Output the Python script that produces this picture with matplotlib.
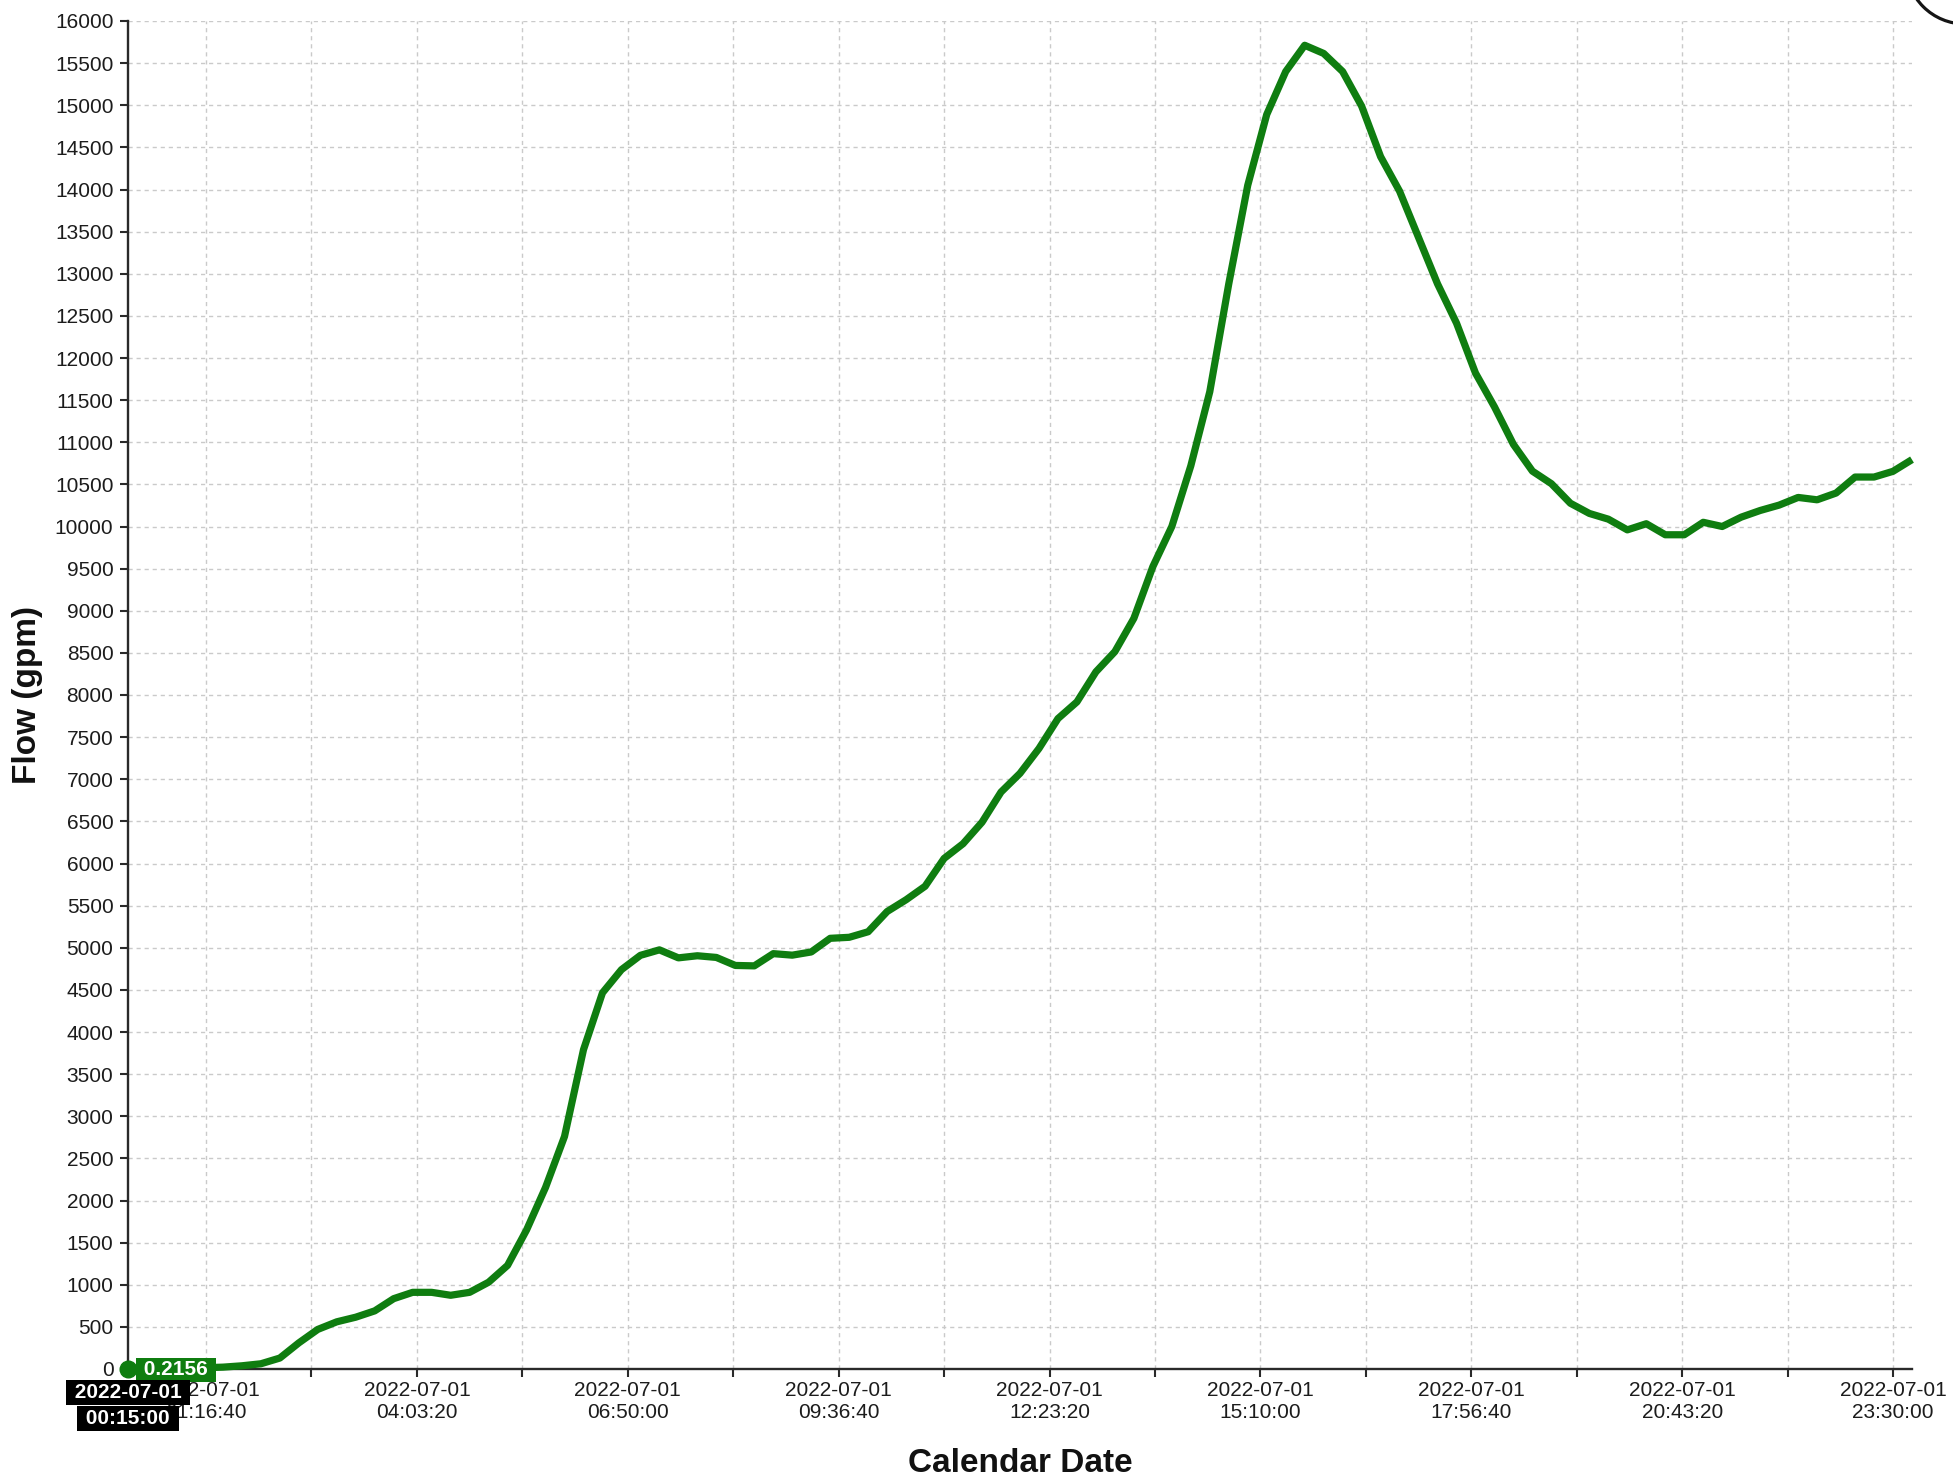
import matplotlib
matplotlib.use("Agg")
import matplotlib.pyplot as plt
import matplotlib.dates as mdates
import pandas as pd
from matplotlib.patches import Ellipse

# ---------------- data ----------------
flow = [0.2156, 3, 6, 10, 15, 22, 38, 62, 130, 310,
        470, 560, 615, 690, 835, 910, 910, 875, 910, 1030,
        1230, 1650, 2155, 2760, 3790, 4465, 4740, 4910, 4975, 4880,
        4905, 4885, 4790, 4785, 4930, 4912, 4950, 5112, 5124, 5190,
        5430, 5570, 5730, 6060, 6235, 6490, 6848, 7070, 7365, 7720,
        7918, 8275, 8515, 8910, 9524, 10000, 10720, 11600, 12880, 14050,
        14890, 15400, 15712, 15615, 15400, 14990, 14390, 13980, 13430, 12880,
        12414, 11821, 11420, 10974, 10657, 10508, 10276, 10155, 10087, 9960,
        10033, 9902, 9902, 10050, 10000, 10111, 10190, 10254, 10345, 10317,
        10397, 10587, 10587, 10655, 10794]
start_time = "2022-07-01 00:15:00"
sample_freq = "15min"
times = pd.date_range(start_time, periods=len(flow), freq=sample_freq)

major_ticks = ["2022-07-01 01:16:40", "2022-07-01 04:03:20", "2022-07-01 06:50:00",
               "2022-07-01 09:36:40", "2022-07-01 12:23:20", "2022-07-01 15:10:00",
               "2022-07-01 17:56:40", "2022-07-01 20:43:20", "2022-07-01 23:30:00"]
minor_ticks = ["2022-07-01 02:40:00", "2022-07-01 05:26:40", "2022-07-01 08:13:20",
               "2022-07-01 11:00:00", "2022-07-01 13:46:40", "2022-07-01 16:33:20",
               "2022-07-01 19:20:00", "2022-07-01 22:06:40"]
y_ticks = list(range(0, 16001, 500))

x_label = "Calendar Date"
y_label = "Flow (gpm)"
tooltip_value = "0.2156"
tooltip_date = "2022-07-01"
tooltip_time = "00:15:00"

# ---------------- style ----------------
GREEN = "#0f7d10"
W, H = 1953, 1484
plt.rcParams["font.family"] = ["Liberation Sans", "DejaVu Sans"]

fig = plt.figure(figsize=(W / 100, H / 100), dpi=100, facecolor="white")
ax = fig.add_axes([128 / W, 1 - 1369 / H, (1912 - 128) / W, (1369 - 21) / H])

ax.plot(times, flow, color=GREEN, lw=5.2, solid_joinstyle="round",
        solid_capstyle="butt", zorder=3, clip_on=False)

ax.set_xlim(times[0], times[-1])
ax.set_ylim(0, 16000)

maj = pd.to_datetime(major_ticks)
mnr = pd.to_datetime(minor_ticks)
ax.set_xticks(maj)
ax.set_xticks(mnr, minor=True)
ax.xaxis.set_major_formatter(mdates.DateFormatter("%Y-%m-%d\n%H:%M:%S"))
ax.set_yticks(y_ticks)
ax.set_yticklabels([str(v) for v in y_ticks])

for s in ["top", "right"]:
    ax.spines[s].set_visible(False)
for s in ["left", "bottom"]:
    ax.spines[s].set_color("#2a2a2a")
    ax.spines[s].set_linewidth(1.7)

ax.tick_params(axis="both", which="both", direction="out", length=6,
               width=1.5, color="#2a2a2a", labelcolor="#1c1c1c", labelsize=15)
ax.tick_params(axis="y", pad=4.5)
ax.tick_params(axis="x", pad=3)
for lbl in ax.get_xticklabels():
    lbl.set_linespacing(1.15)

ax.grid(True, which="both", axis="x", color="#cacaca", lw=1.0, ls=(0, (3, 2.8)))
ax.grid(True, which="major", axis="y", color="#cacaca", lw=1.0, ls=(0, (3, 2.8)))
ax.set_axisbelow(True)

ax.set_xlabel(x_label, fontsize=24, fontweight="bold", color="#111111", labelpad=19)
ax.set_ylabel(y_label, fontsize=24, fontweight="bold", color="#111111", labelpad=8.5)

# ---------------- tooltip ----------------
ax.plot(times[0], flow[0], "o", ms=12, color=GREEN, clip_on=False, zorder=6)
ax.annotate(" " + tooltip_value + " ", xy=(times[0], flow[0]), xytext=(10, -1),
            textcoords="offset pixels", ha="left", va="center", fontsize=15,
            fontweight="bold", color="white", zorder=7, annotation_clip=False,
            bbox=dict(boxstyle="square,pad=0.1", fc=GREEN, ec="none"))
ax.annotate(" " + tooltip_date + " ", xy=(times[0], 0), xytext=(0, -14),
            textcoords="offset pixels", ha="center", va="top", fontsize=15,
            fontweight="bold", color="white", zorder=7, annotation_clip=False,
            bbox=dict(boxstyle="square,pad=0.15", fc="black", ec="none"))
ax.annotate(" " + tooltip_time + " ", xy=(times[0], 0), xytext=(0, -40),
            textcoords="offset pixels", ha="center", va="top", fontsize=15,
            fontweight="bold", color="white", zorder=7, annotation_clip=False,
            bbox=dict(boxstyle="square,pad=0.15", fc="black", ec="none"))

# partial circle at the top-right corner
fig.add_artist(Ellipse((1965 / W, 1 + 35 / H), width=2 * 59 / W, height=2 * 59 / H,
                       transform=fig.transFigure, fill=False, ec="#151515", lw=2.3,
                       clip_on=False))

fig.savefig("out.png", dpi=100, facecolor="white")
